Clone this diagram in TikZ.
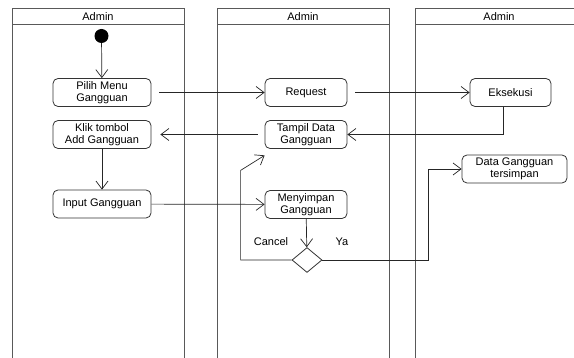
\documentclass[tikz,border=0pt]{standalone}
\usepackage{fontspec}
\setmainfont{Liberation Sans}
\usetikzlibrary{arrows.meta,shapes.geometric}

\tikzset{
  act/.style={draw=black!80, rounded corners=5pt, minimum height=28pt, align=center,
    font=\fontsize{11}{12}\selectfont, line width=0.8pt, inner sep=1pt},
  flow/.style={-{Straight Barb[length=8pt,width=12pt]}, line width=0.7pt, color=black!85},
  lane/.style={draw=black!65, line width=0.9pt},
}

\begin{document}
\begin{tikzpicture}[x=1pt, y=-1pt]
\useasboundingbox (0,0) rectangle (574,358);

% draw swimlanes
\foreach \l/\r/\n in {12/184/la, 217/389/lb}
{
    \draw[lane] (\l,358) -- (\l,8) -- (\r,8) -- (\r,358);
    \draw[lane] (\l,24) -- (\r,24);
    \node[font=\fontsize{11}{12}\selectfont] (\n) at ({(\l+\r)/2},16.5) {Admin};
}
\draw[lane] (415,358) -- (415,8) -- (574,8);
\draw[lane] (415,24) -- (574,24);
\node[font=\fontsize{11}{12}\selectfont] (lc) at (499,16.5) {Admin};

%draw nodes
\node[circle, fill=black, minimum size=14pt, inner sep=0pt] (start) at (101.5,36) {};
\node[act, minimum width=98pt] (pilih) at (102,92.5) {Pilih Menu\\Gangguan};
\node[act, minimum width=98pt] (klik) at (102,134.5) {Klik tombol\\Add Gangguan};
\node[act, minimum width=98pt] (input) at (102,204) {Input Gangguan};
\node[act, minimum width=82pt] (request) at (306,92.5) {Request};
\node[act, minimum width=82pt] (tampil) at (306,134.5) {Tampil Data\\Gangguan};
\node[act, minimum width=82pt] (simpan) at (306,204.5) {Menyimpan\\Gangguan};
\node[act, minimum width=81pt] (eksekusi) at (510.5,92.5) {Eksekusi};
\node[act, minimum width=105pt] (data) at (514.5,169) {Data Gangguan\\tersimpan};
\node[diamond, draw=black!80, line width=0.8pt, minimum width=30pt, minimum height=25pt,
  inner sep=0pt] (dec) at (307,260) {};
\node[font=\fontsize{11}{12}\selectfont] (cancel) at (271,242) {Cancel};
\node[font=\fontsize{11}{12}\selectfont] (ya) at (342,242) {Ya};

% draw flows
\draw[flow] (start) -- (pilih);
\draw[flow] ([xshift=8pt]pilih.east) -- (request.west);
\draw[flow] ([xshift=8pt]request.east) -- (eksekusi.west);
\draw[flow] ([xshift=-7pt]eksekusi.south) |- (tampil.east);
\draw[flow] ([xshift=-7pt]tampil.west) -- ([xshift=9pt]klik.east);
\draw[flow] (klik) -- (input);
\draw[flow] (input) -- (simpan);
\draw[flow] (simpan) -- (dec);
\draw[flow] (dec.west) -| ([xshift=-24pt, yshift=-21.5pt]tampil.south west)
    -- ([yshift=-6.5pt]tampil.south west);
\draw[flow] (dec.east) -| ([xshift=-33pt]data.west) -- (data.west);

\end{tikzpicture}
\end{document}
